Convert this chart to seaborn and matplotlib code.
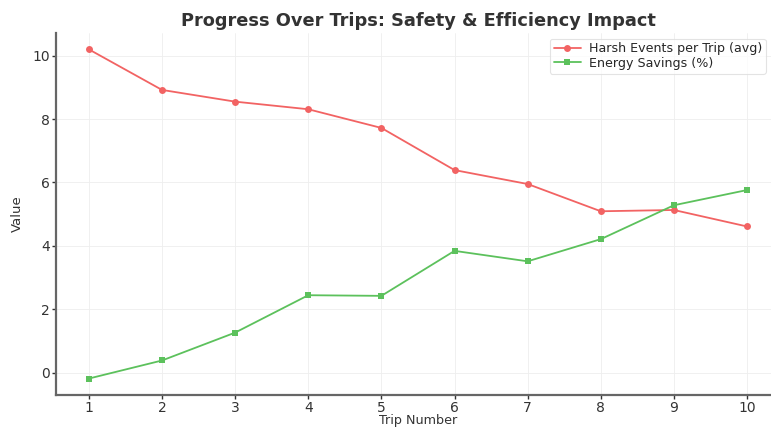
import matplotlib
matplotlib.use("Agg")
import matplotlib.pyplot as plt
import seaborn as sns
import pandas as pd

trips = [1, 2, 3, 4, 5, 6, 7, 8, 9, 10]
harsh_events = [10.2, 8.92, 8.55, 8.31, 7.72, 6.39, 5.95, 5.09, 5.13, 4.61]
energy_savings = [-0.19, 0.38, 1.26, 2.44, 2.42, 3.84, 3.51, 4.21, 5.28, 5.76]

harsh_label = "Harsh Events per Trip (avg)"
energy_label = "Energy Savings (%)"

sns.set_theme(style="whitegrid")
plt.rcParams["font.family"] = ["DejaVu Sans"]

df = pd.DataFrame({"Trip": trips, "Harsh": harsh_events, "Energy": energy_savings})

fig = plt.figure(figsize=(7.71, 4.28), dpi=100)
ax = fig.add_axes([0.0726, 0.0771, 0.939, 0.846])

sns.lineplot(data=df, x="Trip", y="Harsh", ax=ax, color="#f26363", marker="o",
             markersize=5, markeredgewidth=0, linewidth=1.3, label=harsh_label)
sns.lineplot(data=df, x="Trip", y="Energy", ax=ax, color="#5cc15c", marker="s",
             markersize=5, markeredgewidth=0, linewidth=1.3, label=energy_label)

ax.set_xticks(trips)
ax.set_title("Progress Over Trips: Safety & Efficiency Impact", fontsize=12.8,
             fontweight="bold", color="#333333", pad=5)
ax.set_xlabel("Trip Number", fontsize=9.2, color="#333333", labelpad=-1)
ax.set_ylabel("Value", fontsize=9.5, color="#333333", labelpad=6)
ax.tick_params(axis="both", labelsize=10, colors="#333333", length=3, width=1,
               direction="out", pad=1.5, left=True, bottom=True)
ax.grid(True, color="#eeeeee", linewidth=0.6)
for side in ("top", "right"):
    ax.spines[side].set_visible(False)
for side in ("left", "bottom"):
    ax.spines[side].set_color("#666666")
    ax.spines[side].set_linewidth(1.6)

leg = ax.legend(loc="upper left", bbox_to_anchor=(0.682, 0.984), borderaxespad=0,
                fontsize=9.1, frameon=True, borderpad=0.3, handlelength=2.2,
                handletextpad=0.6, labelspacing=0.1)
leg.get_frame().set_edgecolor("#dddddd")
leg.get_frame().set_linewidth(0.8)

fig.savefig("out.png", dpi=100)
